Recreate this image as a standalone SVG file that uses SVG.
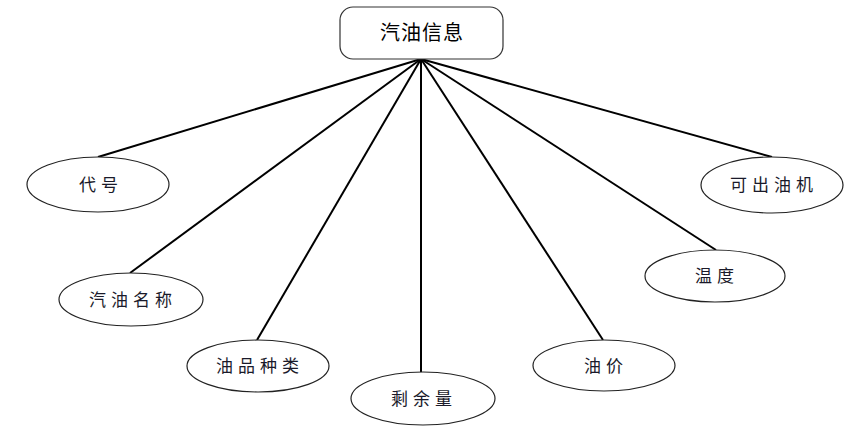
<svg xmlns="http://www.w3.org/2000/svg" width="860" height="436" viewBox="0 0 860 436">
<style>
.bg{fill:#ffffff}
.box{fill:#ffffff;stroke:#333333;stroke-width:1.2}
.ell{fill:#ffffff;stroke:#222222;stroke-width:1.2}
.ln{stroke:#000000;stroke-width:2;fill:none}
.t{font-family:"Liberation Sans","Noto Sans CJK SC",sans-serif;font-size:17px;fill:#1a1a2a;text-anchor:middle;dominant-baseline:central;letter-spacing:5px}
.tt{font-family:"Liberation Sans","Noto Sans CJK SC",sans-serif;font-size:20px;fill:#000000;text-anchor:middle;dominant-baseline:central;letter-spacing:1px}
</style>
<rect class="bg" x="0" y="0" width="860" height="436"/>
<g id="connectors">
<line class="ln" x1="421" y1="59" x2="98" y2="157"/>
<line class="ln" x1="421" y1="59" x2="130" y2="273"/>
<line class="ln" x1="421" y1="59" x2="257" y2="340"/>
<line class="ln" x1="421" y1="59" x2="421" y2="372"/>
<line class="ln" x1="421" y1="59" x2="603" y2="340"/>
<line class="ln" x1="421" y1="59" x2="716" y2="250"/>
<line class="ln" x1="421" y1="59" x2="772" y2="157"/>
</g>
<g id="root">
<rect class="box" x="340" y="7" width="163" height="52" rx="13" ry="13"/>
<text class="tt" x="422" y="33">汽油信息</text>
</g>
<g id="n1">
<ellipse class="ell" cx="98" cy="184.5" rx="71" ry="27.5"/>
<text class="t" x="101" y="185">代号</text>
</g>
<g id="n2">
<ellipse class="ell" cx="131" cy="299.5" rx="72" ry="26.5"/>
<text class="t" x="133" y="300">汽油名称</text>
</g>
<g id="n3">
<ellipse class="ell" cx="258" cy="366" rx="71" ry="26"/>
<text class="t" x="260" y="366">油品种类</text>
</g>
<g id="n4">
<ellipse class="ell" cx="423" cy="398.5" rx="72" ry="26.5"/>
<text class="t" x="424" y="399">剩余量</text>
</g>
<g id="n5">
<ellipse class="ell" cx="604" cy="365.5" rx="71" ry="25.5"/>
<text class="t" x="606" y="366">油价</text>
</g>
<g id="n6">
<ellipse class="ell" cx="715" cy="276" rx="70" ry="26"/>
<text class="t" x="717" y="276">温度</text>
</g>
<g id="n7">
<ellipse class="ell" cx="772" cy="185" rx="71" ry="28"/>
<text class="t" x="774" y="185">可出油机</text>
</g>
</svg>
